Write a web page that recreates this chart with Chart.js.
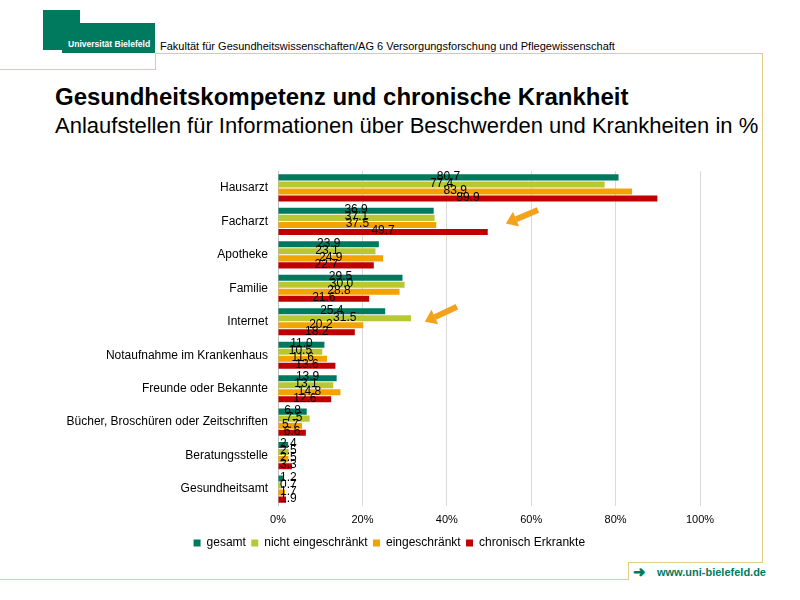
<!DOCTYPE html>
<html>
<head>
<meta charset="utf-8">
<script src="https://cdn.jsdelivr.net/npm/chart.js@4"></script>
<style>
  body { margin: 0; background: #fff; font-family: "Liberation Sans", Arial, sans-serif; }
  #page { position: relative; width: 800px; height: 600px; overflow: hidden; }
  .abs { position: absolute; white-space: nowrap; }
  .line { position: absolute; background: #e2cd86; }
  #chartBox { position: absolute; left: 0; top: 154px; width: 760px; height: 405px; }
</style>
</head>
<body>
<div id="page">
  <!-- logo -->
  <div class="abs" style="left:43px;top:10px;width:37px;height:14px;background:#007a5e"></div>
  <div class="abs" style="left:43px;top:23px;width:112px;height:27px;background:#007a5e"></div>
  <div class="abs" style="left:62px;top:49px;width:93px;height:4px;background:#007a5e"></div>
  <div class="abs" style="left:68px;top:39px;font-size:9px;font-weight:bold;color:#fff;transform:scaleX(0.95);transform-origin:left">Universität Bielefeld</div>
  <div class="abs" style="left:160px;top:41px;font-size:10px;color:#000;transform:scaleX(1.1);transform-origin:left">Fakultät für Gesundheitswissenschaften/AG 6 Versorgungsforschung und Pflegewissenschaft</div>

  <!-- frame lines -->
  <div class="line" style="left:0;top:69px;width:156px;height:1px"></div>
  <div class="line" style="left:155px;top:53px;width:1px;height:17px"></div>
  <div class="line" style="left:155px;top:53px;width:608px;height:1px"></div>
  <div class="line" style="left:762px;top:53px;width:1px;height:510px"></div>
  <div class="line" style="left:628px;top:562px;width:135px;height:1px"></div>
  <div class="line" style="left:628px;top:562px;width:1px;height:18px"></div>
  <div class="line" style="left:0;top:579px;width:629px;height:1px"></div>

  <div class="abs" style="left:55px;top:83px;font-size:24px;font-weight:bold">Gesundheitskompetenz und chronische Krankheit</div>
  <div class="abs" style="left:55px;top:113px;font-size:22px">Anlaufstellen für Informationen über Beschwerden und Krankheiten in %</div>

  <div class="abs" style="left:633px;top:563px;font-size:15px;font-weight:bold;color:#007a5e">&#10140;</div>
  <div class="abs" style="left:657px;top:566px;font-size:11px;font-weight:bold;color:#007a5e">www.uni-bielefeld.de</div>

  <div id="chartBox"><canvas id="chart"></canvas></div>
</div>
<script>
// categories and series (percent)
var categories = ["Hausarzt", "Facharzt", "Apotheke", "Familie", "Internet",
  "Notaufnahme im Krankenhaus", "Freunde oder Bekannte",
  "Bücher, Broschüren oder Zeitschriften", "Beratungsstelle", "Gesundheitsamt"];
var gesamt =             [80.7, 36.9, 23.9, 29.5, 25.4, 11.0, 13.9, 6.8, 2.4, 1.2];
var nichtEingeschraenkt = [77.4, 37.1, 23.1, 30.0, 31.5, 10.5, 13.1, 7.5, 2.5, 0.7];
var eingeschraenkt =     [83.9, 37.5, 24.9, 28.8, 20.2, 11.6, 14.8, 5.7, 2.5, 1.7];
var chronisch =          [89.9, 49.7, 22.7, 21.6, 18.2, 13.6, 12.6, 6.6, 3.3, 1.9];
var seriesNames = ["gesamt", "nicht eingeschränkt", "eingeschränkt", "chronisch Erkrankte"];
var xTicks = [0, 20, 40, 60, 80, 100];

// highlight arrows: [x value, category position] tail -> head
var arrows = [
  { from: [61.6, 0.66], to: [54, 1.06] },
  { from: [42.4, 3.55], to: [34.8, 4.0] }
];

var colors = ['#007a5e', '#b8c832', '#f3a300', '#c00000'];

var valueLabels = {
  id: 'valueLabels',
  afterDatasetsDraw: function(chart) {
    var ctx = chart.ctx;
    var left = chart.chartArea.left;
    ctx.save();
    ctx.font = '12px "Liberation Sans", Arial, sans-serif';
    ctx.fillStyle = '#000';
    ctx.textAlign = 'center';
    ctx.textBaseline = 'middle';
    chart.data.datasets.forEach(function(ds, i) {
      chart.getDatasetMeta(i).data.forEach(function(bar, j) {
        var txt = ds.data[j].toFixed(1);
        var w = ctx.measureText(txt).width;
        var x = Math.max((bar.x + bar.base) / 2, left + w / 2 + 2);
        ctx.fillText(txt, x, bar.y - 1);
      });
    });
    ctx.restore();
  }
};

var arrowPlugin = {
  id: 'arrowPlugin',
  afterDraw: function(chart) {
    var ctx = chart.ctx;
    var xs = chart.scales.x, ys = chart.scales.y;
    ctx.save();
    ctx.fillStyle = '#f2a31b';
    ctx.strokeStyle = '#f2a31b';
    arrows.forEach(function(a) {
      var x1 = xs.getPixelForValue(a.from[0]), y1 = ys.getPixelForValue(a.from[1]);
      var x2 = xs.getPixelForValue(a.to[0]), y2 = ys.getPixelForValue(a.to[1]);
      var ang = Math.atan2(y2 - y1, x2 - x1);
      var hl = 11;
      var bx = x2 - hl * Math.cos(ang), by = y2 - hl * Math.sin(ang);
      ctx.lineWidth = 6;
      ctx.beginPath();
      ctx.moveTo(x1, y1);
      ctx.lineTo(bx, by);
      ctx.stroke();
      ctx.beginPath();
      ctx.moveTo(x2, y2);
      ctx.lineTo(bx + 8 * Math.sin(ang), by - 8 * Math.cos(ang));
      ctx.lineTo(bx - 8 * Math.sin(ang), by + 8 * Math.cos(ang));
      ctx.closePath();
      ctx.fill();
    });
    ctx.restore();
  }
};

// nudge the legend so it sits under the middle of the page like the original
var legendShift = {
  id: 'legendShift',
  afterLayout: function(chart) {
    chart.legend.left += 30;
    chart.legend.right += 30;
  }
};

var data = [gesamt, nichtEingeschraenkt, eingeschraenkt, chronisch];

new Chart(document.getElementById('chart'), {
  type: 'bar',
  data: {
    labels: categories,
    datasets: data.map(function(d, i) {
      return {
        label: seriesNames[i],
        data: d,
        backgroundColor: colors[i],
        borderWidth: 0,
        categoryPercentage: 0.84,
        barPercentage: 0.86
      };
    })
  },
  options: {
    indexAxis: 'y',
    responsive: true,
    maintainAspectRatio: false,
    animation: false,
    layout: { padding: { left: 22, right: 60, top: 12, bottom: 0 } },
    scales: {
      x: {
        min: 0, max: 100,
        afterBuildTicks: function(s) { s.ticks = xTicks.map(function(v) { return { value: v }; }); },
        grid: { color: '#d9d9d9', drawTicks: false },
        border: { display: false },
        ticks: {
          padding: 8,
          color: '#000',
          font: { size: 11, family: '"Liberation Sans", Arial, sans-serif' },
          callback: function(v) { return v + '%'; }
        }
      },
      y: {
        afterFit: function(s) { s.width = 256; },
        grid: { display: false, drawTicks: false },
        border: { display: true, color: '#bfbfbf' },
        ticks: {
          padding: 10,
          color: '#000',
          font: { size: 12, family: '"Liberation Sans", Arial, sans-serif' }
        }
      }
    },
    plugins: {
      legend: {
        position: 'bottom',
        labels: {
          boxWidth: 7, boxHeight: 7, padding: 2,
          color: '#000',
          font: { size: 12, family: '"Liberation Sans", Arial, sans-serif' },
          generateLabels: function(chart) {
            return chart.data.datasets.map(function(ds, i) {
              return { text: ds.label + ' ', fillStyle: ds.backgroundColor, strokeStyle: ds.backgroundColor, lineWidth: 0, datasetIndex: i };
            });
          }
        }
      },
      tooltip: { enabled: false }
    }
  },
  plugins: [valueLabels, arrowPlugin, legendShift]
});
</script>
</body>
</html>
